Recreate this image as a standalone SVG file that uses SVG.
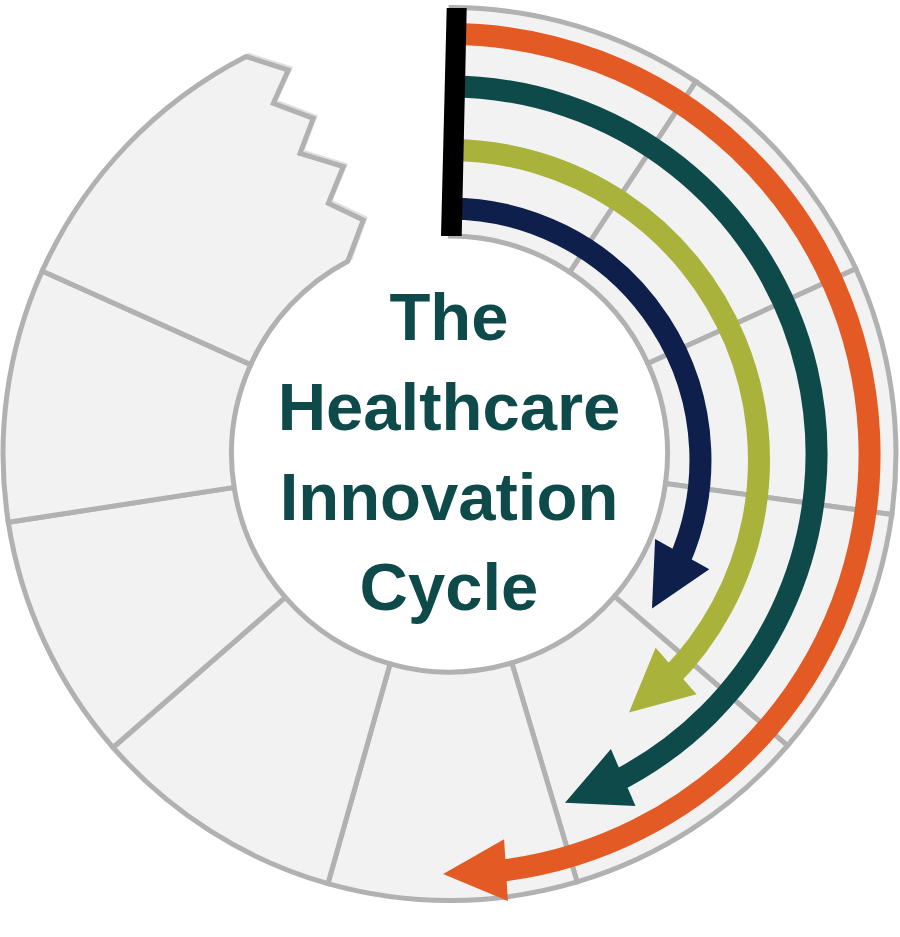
<svg xmlns="http://www.w3.org/2000/svg" width="900" height="937" viewBox="0 0 900 937">
<style>
.seg{fill:#f2f2f2;stroke:#b1b1b1;stroke-width:5;stroke-linejoin:miter}
.shaft{fill:none;stroke-width:22;stroke-linecap:butt}
.title{font-family:"Liberation Sans",Arial,sans-serif;font-weight:bold;font-size:67px;fill:#0f4a4a;text-anchor:middle}
</style>
<rect width="900" height="937" fill="#ffffff"/>
<g id="ring">
<g id="seg1"><path class="seg" d="M451.1,7.5 A446.5,446.5 0 0 1 695.9,81.7 L569.8,272.2 A218,218 0 0 0 450.3,236 Z"/></g>
<g id="seg2"><path class="seg" d="M695.9,81.7 A446.5,446.5 0 0 1 855.8,268.8 L647.9,363.6 A218,218 0 0 0 569.8,272.2 Z"/></g>
<g id="seg3"><path class="seg" d="M855.8,268.8 A446.5,446.5 0 0 1 891.8,514.6 L665.5,483.6 A218,218 0 0 0 647.9,363.6 Z"/></g>
<g id="seg4"><path class="seg" d="M891.8,514.6 A446.5,446.5 0 0 1 787.5,745.7 L614.5,596.4 A218,218 0 0 0 665.5,483.6 Z"/></g>
<g id="seg5"><path class="seg" d="M787.5,745.7 A446.5,446.5 0 0 1 577.1,881.9 L511.8,662.9 A218,218 0 0 0 614.5,596.4 Z"/></g>
<g id="seg6"><path class="seg" d="M577.1,881.9 A446.5,446.5 0 0 1 327.9,883.6 L390.1,663.8 A218,218 0 0 0 511.8,662.9 Z"/></g>
<g id="seg7"><path class="seg" d="M327.9,883.6 A446.5,446.5 0 0 1 113.1,747.5 L285.3,597.3 A218,218 0 0 0 390.1,663.8 Z"/></g>
<g id="seg8"><path class="seg" d="M113.1,747.5 A446.5,446.5 0 0 1 8.3,522.3 L234.1,487.4 A218,218 0 0 0 285.3,597.3 Z"/></g>
<g id="seg9"><path class="seg" d="M8.3,522.3 A446.5,446.5 0 0 1 42.2,271 L250.7,364.6 A218,218 0 0 0 234.1,487.4 Z"/></g>
<g id="seg10">
<polyline points="247.6,54.5 290.3,68 275.3,101.3 315.3,116.3 302,151.3 345.3,164.7 330.3,201.3 365.3,218 350.3,259.5" fill="none" stroke="#e0e0e0" stroke-width="4"/>
<path class="seg" d="M42.2,271 A446.5,446.5 0 0 1 246.1,56.5 L288.3,70 L273.3,103.3 L313.3,118.3 L300,153.3 L343.3,166.7 L328.3,203.3 L363.3,220 L347.8,261.2 A218,218 0 0 0 250.7,364.6 Z"/>
</g>
</g>
<g id="arrows">
<g id="arrow-orange">
<path class="shaft" stroke="#e35a24" d="M449,34 A420,420 0 0 1 491.5,871.9"/>
<polygon fill="#e35a24" points="443.1,874 507.9,901 504.1,839.2"/>
</g>
<g id="arrow-teal">
<path class="shaft" stroke="#0f4a4a" d="M449,86.5 A367.5,367.5 0 0 1 611.8,783.5"/>
<polygon fill="#0f4a4a" points="565,802.7 635.5,806.1 610.9,749.1"/>
</g>
<g id="arrow-olive">
<path class="shaft" stroke="#a9b23a" d="M449,150 A310,310 0 0 1 668.6,678.8"/>
<polygon fill="#a9b23a" points="629,712.4 696.6,694.3 655.6,647.7"/>
</g>
<g id="arrow-navy">
<path class="shaft" stroke="#0d1f4a" d="M449,208.5 A251.5,251.5 0 0 1 678.7,562.3"/>
<polygon fill="#0d1f4a" points="652,608.5 709.3,569.3 655.1,539.1"/>
</g>
</g>
<g id="start-bar"><polygon fill="#000000" points="446.7,8 466.7,8 461.7,236 441,236"/></g>
<g id="title">
<text class="title" x="449" y="340">The</text>
<text class="title" x="449" y="430">Healthcare</text>
<text class="title" x="449" y="520">Innovation</text>
<text class="title" x="449" y="610">Cycle</text>
</g>
</svg>
